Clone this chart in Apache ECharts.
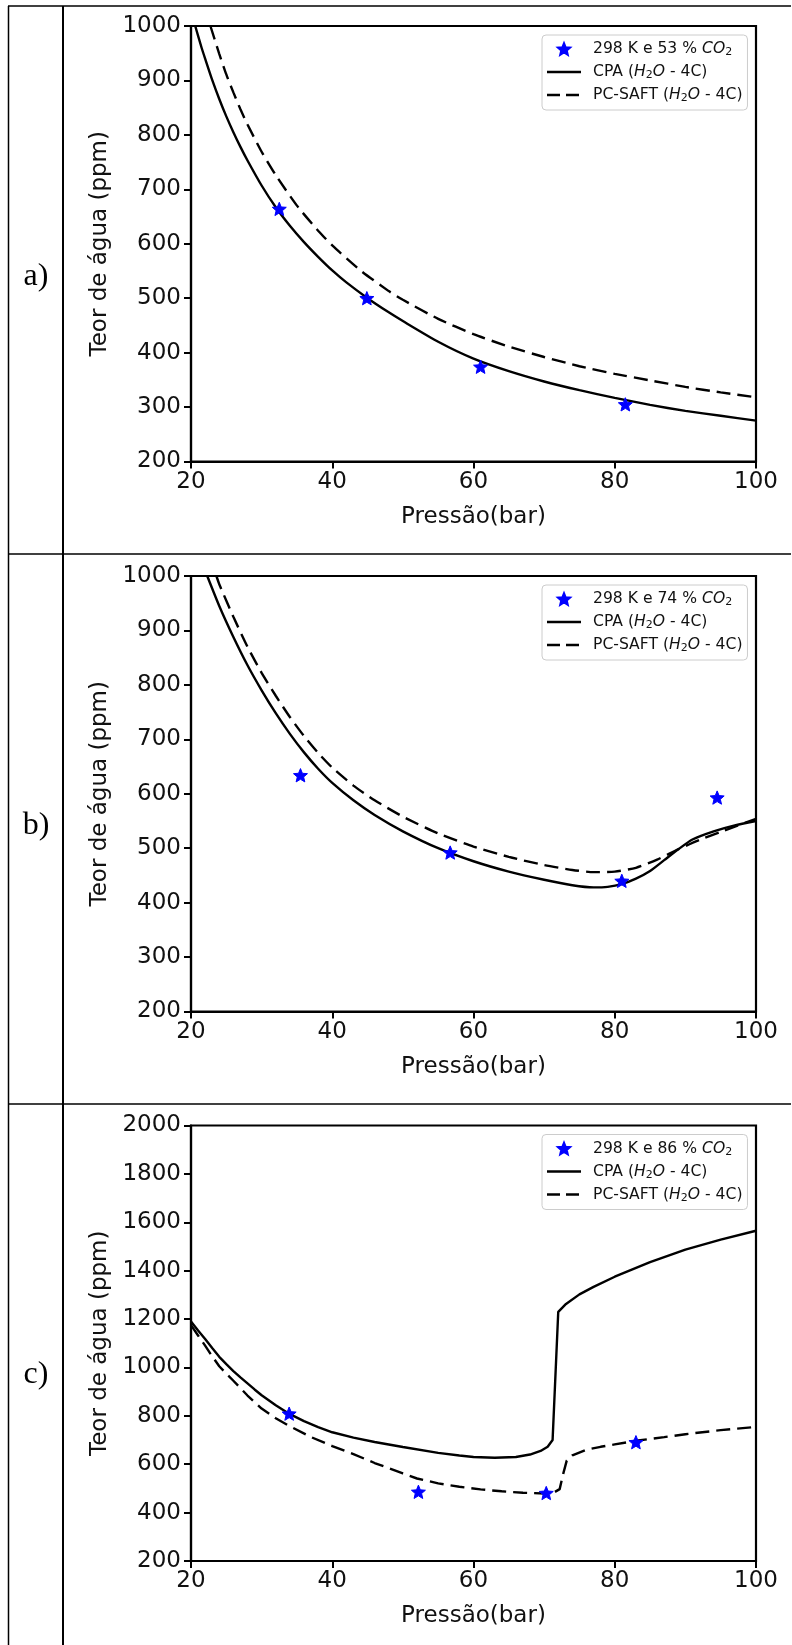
<!DOCTYPE html>
<html><head><meta charset="utf-8">
<script src="https://cdn.jsdelivr.net/npm/echarts@6/dist/echarts.min.js"></script>
<style>html,body{margin:0;padding:0;background:#fff}#c{width:792px;height:1645px}</style>
</head><body><div id="c"></div>
<script>
// ---- data ----
const xTicks = [20, 40, 60, 80, 100];
const yTicksAB = [200, 300, 400, 500, 600, 700, 800, 900, 1000];
const yTicksC = [200, 400, 600, 800, 1000, 1200, 1400, 1600, 1800, 2000];
const panelLabels = ['a)', 'b)', 'c)'];
const expNames = ['298 K e 53 % CO₂', '298 K e 74 % CO₂', '298 K e 86 % CO₂'];
const cpaName = 'CPA (H₂O - 4C)';
const saftName = 'PC-SAFT (H₂O - 4C)';
const xTitle = 'Pressão(bar)';
const yTitle = 'Teor de água (ppm)';

const expA = [[32.5, 664], [44.9, 500], [61.0, 374], [81.5, 305]];
const cpaA = [[20.6, 1000], [21.5, 960], [22, 940], [23, 901], [24, 866], [25, 834], [26, 805], [27, 778], [28, 753], [30, 707], [32, 667], [34, 633], [36, 603], [38, 576], [40, 551], [42, 529], [45, 500], [48, 474], [50, 458], [55, 420], [60, 389], [65, 366], [70, 347], [75, 331], [80, 317], [85, 304], [90, 293], [95, 284], [100, 275]];
const saftA = [[22.75, 1000], [24, 949], [25, 911], [26, 878], [27, 847], [28, 819], [30, 769], [32, 726], [35, 670], [38, 624], [40, 597], [44, 551], [48, 513], [50, 497], [55, 462], [60, 434], [65, 411], [70, 392], [75, 375], [80, 361], [85, 349], [90, 337], [95, 327], [100, 318]];

const expB = [[35.5, 634], [56.7, 492], [81.0, 440], [94.5, 593]];
const cpaB = [[22.3, 1000], [24, 945], [26, 888], [28, 836], [30, 790], [32, 748], [34, 710], [36, 676], [38, 646], [40, 620], [43, 588], [46, 561], [50, 531], [55, 500], [60, 476], [65, 457], [70, 442], [74, 432], [77, 428], [79, 429], [81, 434], [83, 444], [85, 458], [87, 478], [89, 498], [91, 516], [94, 531], [97, 542], [100, 550]];
const saftB = [[23.6, 1000], [24, 985], [26, 925], [28, 870], [30, 822], [32, 780], [34, 741], [36, 706], [38, 675], [40, 648], [43, 615], [46, 588], [50, 558], [55, 527], [60, 503], [65, 484], [70, 469], [74, 460], [77, 456], [80, 457], [83, 464], [86, 479], [89, 498], [92, 515], [95, 530], [100, 554]];

const expC = [[33.9, 809], [52.2, 486], [70.3, 481], [83.0, 691]];
const cpaC = [[20, 1190], [21, 1153], [22, 1118], [23, 1080], [24, 1044], [25, 1014], [26, 985], [27, 959], [28, 934], [29, 909], [30, 885], [32, 844], [34, 807], [36, 778], [38, 753], [40, 732], [43, 710], [46, 692], [50, 671], [55, 647], [58, 636], [60, 630], [63, 627], [66, 630], [68, 640], [69.5, 655], [70.5, 672], [71.2, 700], [72.0, 1230], [73, 1260], [75, 1302], [77, 1333], [80, 1375], [85, 1435], [90, 1487], [95, 1528], [100, 1565]];
const saftC = [[20, 1175], [21, 1132], [22, 1090], [23, 1046], [24, 1005], [25, 974], [26, 945], [28, 884], [30, 830], [32, 790], [34, 757], [37, 712], [40, 675], [43, 642], [46, 605], [50, 562], [52, 541], [55, 521], [58, 507], [61, 496], [64, 488], [67, 482], [70, 479], [71.5, 485], [72.2, 497], [72.7, 560], [73.2, 615], [74, 637], [76, 660], [78, 672], [80, 682], [83, 697], [87, 712], [90, 724], [95, 741], [100, 754]];

const expData = [expA, expB, expC];
const cpaData = [cpaA, cpaB, cpaC];
const saftData = [saftA, saftB, saftC];
const yTicks = [yTicksAB, yTicksAB, yTicksC];

// ---- layout ----
const tops = [26, 576, 1125.5];
const gridH = 435.5;
const labelY = [277, 826, 1375];
const starShape = 'M0 -100 L26 -36 L95 -31 L43 14 L59 81 L0 45 L-59 81 L-43 14 L-95 -31 L-26 -36 Z';
const starPath = 'path://' + starShape;
const legendStar = 'path://M-115 -118 M115 99 ' + starShape;
const solidIcon = 'path://M0 -1.2 H34 V1.2 H0 Z';
const dashIcon = 'path://M34 0 M0 -1.2 H13 V1.2 H0 Z M19 -1.2 H32 V1.2 H19 Z';
const FONT = 'DejaVu Sans';

function richName(name) {
  const m = name.match(/^(.*?)(CO₂|H₂O)(.*)$/);
  const chem = m[2] === 'CO₂' ? '{i|CO}{s|2}' : '{i|H}{s|2}{i|O}';
  let s = '{p|' + m[1] + '}' + chem;
  if (m[3]) s += '{t|' + m[3] + '}';
  return s;
}

const grids = [], xAxes = [], yAxes = [], series = [], legends = [], graphics = [];
for (let i = 0; i < 3; i++) {
  const yt = yTicks[i];
  grids.push({ left: 191, top: tops[i], width: 565, height: gridH, show: true, borderColor: '#000', borderWidth: 2.2, backgroundColor: 'rgba(0,0,0,0)' });
  xAxes.push({
    gridIndex: i, type: 'value', min: xTicks[0], max: xTicks[xTicks.length - 1], interval: xTicks[1] - xTicks[0],
    name: xTitle, nameLocation: 'middle', nameGap: 44,
    nameTextStyle: { fontFamily: FONT, fontSize: 23, color: '#111' },
    axisLine: { show: true, onZero: false, lineStyle: { color: '#000', width: 2.2 } },
    axisTick: { show: true, length: 7, lineStyle: { color: '#000', width: 2 } },
    axisLabel: { fontFamily: FONT, fontSize: 23, color: '#111', margin: 9, formatter: v => String(v) },
    splitLine: { show: false }
  });
  yAxes.push({
    gridIndex: i, type: 'value', min: yt[0], max: yt[yt.length - 1], interval: yt[1] - yt[0],
    name: yTitle, nameLocation: 'middle', nameGap: 71,
    nameTextStyle: { fontFamily: FONT, fontSize: 23, color: '#111' },
    axisLine: { show: true, onZero: false, lineStyle: { color: '#000', width: 2.2 } },
    axisTick: { show: true, length: 7, lineStyle: { color: '#000', width: 2 } },
    axisLabel: { fontFamily: FONT, fontSize: 23, color: '#111', margin: 10, formatter: v => String(v) },
    splitLine: { show: false }
  });
  series.push({
    type: 'line', name: cpaName, xAxisIndex: i, yAxisIndex: i, data: cpaData[i],
    symbol: 'none', smooth: i < 2 ? 0.2 : false,
    lineStyle: { color: '#000', width: 2.4, type: 'solid' }, itemStyle: { color: '#000' }, z: 2
  });
  series.push({
    type: 'line', name: saftName, xAxisIndex: i, yAxisIndex: i, data: saftData[i],
    symbol: 'none', smooth: i < 2 ? 0.2 : false,
    lineStyle: { color: '#000', width: 2.4, type: [14, 7] }, itemStyle: { color: '#000' }, z: 2
  });
  series.push({
    type: 'scatter', name: expNames[i], xAxisIndex: i, yAxisIndex: i, data: expData[i],
    symbol: starPath, symbolSize: 14, symbolKeepAspect: true,
    itemStyle: { color: '#0000ff', opacity: 1, borderColor: '#0000ff', borderWidth: 1 }, z: 5
  });
  legends.push({
    data: [
      { name: expNames[i], icon: legendStar, itemStyle: { color: '#0000ff', opacity: 1 } },
      { name: cpaName, icon: solidIcon, itemStyle: { color: '#000' } },
      { name: saftName, icon: dashIcon, itemStyle: { color: '#000' } }
    ],
    orient: 'vertical', left: 542, top: tops[i] + 9, symbolKeepAspect: true,
    padding: [5, 5, 6, 5], itemGap: 5, itemWidth: 34, itemHeight: 14,
    backgroundColor: 'rgba(255,255,255,0.85)', borderColor: '#cccccc', borderWidth: 1, borderRadius: 4,
    selectedMode: false,
    formatter: richName,
    textStyle: {
      fontFamily: FONT, fontSize: 15.6, color: '#111', lineHeight: 18,
      rich: {
        p: { fontFamily: FONT, fontSize: 15.6, color: '#111', padding: [0, 0, 0, 7], lineHeight: 18 },
        t: { fontFamily: FONT, fontSize: 15.6, color: '#111', lineHeight: 18 },
        i: { fontFamily: FONT, fontSize: 15.6, fontStyle: 'italic', color: '#111', lineHeight: 18 },
        s: { fontFamily: FONT, fontSize: 11, color: '#111', lineHeight: 10, verticalAlign: 'bottom' }
      }
    }
  });
  graphics.push({ type: 'text', x: 36, y: labelY[i], style: { text: panelLabels[i], fontFamily: 'Liberation Serif', fontSize: 32, fill: '#000', align: 'center', verticalAlign: 'middle' } });
}
// table lines
const vLines = [[8.5, 1.5], [63, 2]];
vLines.forEach(v => graphics.push({ type: 'line', shape: { x1: v[0], y1: 6, x2: v[0], y2: 1645 }, style: { stroke: '#000', lineWidth: v[1] } }));
[6, 554, 1104].forEach(y => graphics.push({ type: 'line', shape: { x1: 8, y1: y, x2: 791, y2: y }, style: { stroke: '#000', lineWidth: 1.5 } }));

const chart = echarts.init(document.getElementById('c'), null, { renderer: 'canvas' });
chart.setOption({
  animation: false,
  backgroundColor: '#fff',
  grid: grids, xAxis: xAxes, yAxis: yAxes, series: series, legend: legends, graphic: graphics
});
</script></body></html>
